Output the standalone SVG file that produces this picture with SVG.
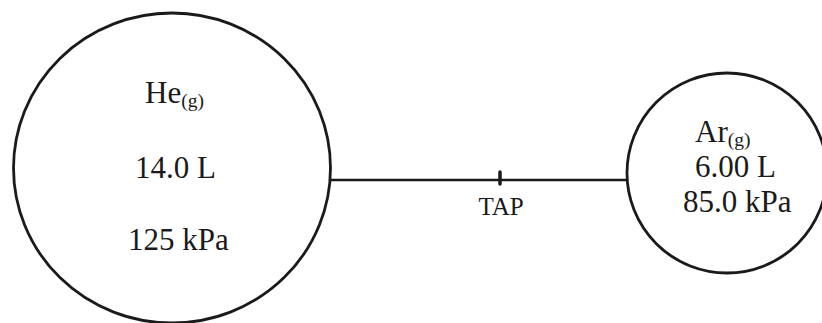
<svg xmlns="http://www.w3.org/2000/svg" width="822" height="323" viewBox="0 0 822 323">
<style>
.vessel{fill:none;stroke:#1a1a1a;stroke-width:2.8}
.pipe{fill:none;stroke:#1a1a1a;stroke-width:2.4}
.tap{stroke:#1a1a1a;stroke-width:3.5;stroke-linecap:round}
text{font-family:"Liberation Serif","Times New Roman",serif;fill:#1a1a1a}
.big{font-size:31px}
.sub{font-size:19.5px}
.lab{font-size:25px}
</style>
<rect width="822" height="323" fill="#ffffff"/>
<g id="connectors">
<line class="pipe" x1="330" y1="180" x2="627" y2="180"/>
<line class="tap" x1="500" y1="172" x2="500" y2="184"/>
<text class="lab" x="501" y="215" text-anchor="middle">TAP</text>
</g>
<g id="he-vessel">
<ellipse class="vessel" cx="172" cy="168" rx="158.5" ry="155"/>
<text class="big" x="145" y="103">He<tspan class="sub" dy="4">(g)</tspan></text>
<text class="big" x="135" y="178">14.0 L</text>
<text class="big" x="128" y="250">125 kPa</text>
</g>
<g id="ar-vessel">
<circle class="vessel" cx="727" cy="173" r="100"/>
<text class="big" x="695" y="142">Ar<tspan class="sub" dy="4">(g)</tspan></text>
<text class="big" x="695" y="177">6.00 L</text>
<text class="big" x="683" y="212">85.0 kPa</text>
</g>
</svg>
